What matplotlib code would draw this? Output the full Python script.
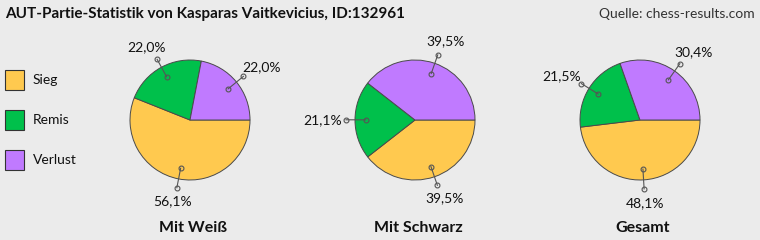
import numpy as np
import matplotlib
matplotlib.use("Agg")
import matplotlib.pyplot as plt
from matplotlib.patches import Rectangle

# data
categories = ["Sieg", "Remis", "Verlust"]
colours = ["#FFC94F", "#00C04B", "#C07AFF"]
groups = ["Mit Weiß", "Mit Schwarz", "Gesamt"]
weiss = [56.1, 22.0, 22.0]
schwarz = [39.5, 21.1, 39.5]
gesamt = [48.1, 21.5, 30.4]
title = "AUT-Partie-Statistik von Kasparas Vaitkevicius, ID:132961"
source = "Quelle: chess-results.com"

W, H = 760, 240
plt.rcParams["font.family"] = ["Lato", "DejaVu Sans"]

fig = plt.figure(figsize=(W / 100, H / 100), dpi=100, facecolor="#EBEBEB")
ax = fig.add_axes([0, 0, 1, 1])
ax.set_facecolor("#EBEBEB")


def Y(y):
    # pixel row -> data y
    return H - y


centers = [190, 415, 640]
R = 60
cy = 120

for cx, vals, name in zip(centers, [weiss, schwarz, gesamt], groups):
    ax.pie(vals, colors=colours, startangle=0, counterclock=False,
           center=(cx, Y(cy)), radius=R,
           wedgeprops=dict(edgecolor="#4a4a4a", linewidth=0.7))
    start = 0.0
    for v in vals:
        mid = np.deg2rad(-(start + v / 2) * 3.6)
        start += v
        c, s = np.cos(mid), np.sin(mid)
        x1, y1 = cx + 0.82 * R * c, Y(cy) + 0.82 * R * s
        x2, y2 = cx + 1.15 * R * c, Y(cy) + 1.15 * R * s
        ax.plot([x1, x2], [y1, y2], color="#555555", lw=0.8, zorder=5)
        ax.plot([x1, x2], [y1, y2], "o", ms=3.5, mfc="none", mec="#555555",
                mew=0.8, zorder=6)
        tx = x2 + 4 * c + 19 * c
        ty = y2 + 4 * s + 10 * s
        ax.text(tx, ty, f"{v:.1f}%".replace(".", ","), ha="center",
                va="center", fontsize=10, color="#111111")
    ax.text(cx + 3, Y(228), name, ha="center", va="center", fontsize=11.5,
            fontweight="bold", color="#111111")

# legend
for i, (lab, col) in enumerate(zip(categories, colours)):
    y0 = 70 + 40 * i
    ax.add_patch(Rectangle((5, Y(y0 + 20)), 19, 20, facecolor=col,
                           edgecolor="#333333", lw=0.8))
    ax.text(33, Y(y0 + 10), lab, ha="left", va="center", fontsize=10,
            color="#111111")

ax.text(5, Y(14), title, ha="left", va="center", fontsize=11,
        fontweight="bold", color="#111111")
ax.text(755, Y(14), source, ha="right", va="center", fontsize=10,
        color="#333333")

ax.set_xlim(0, W)
ax.set_ylim(0, H)
ax.set_aspect("auto")
ax.axis("off")

fig.savefig("out.png", dpi=100, facecolor=fig.get_facecolor())
